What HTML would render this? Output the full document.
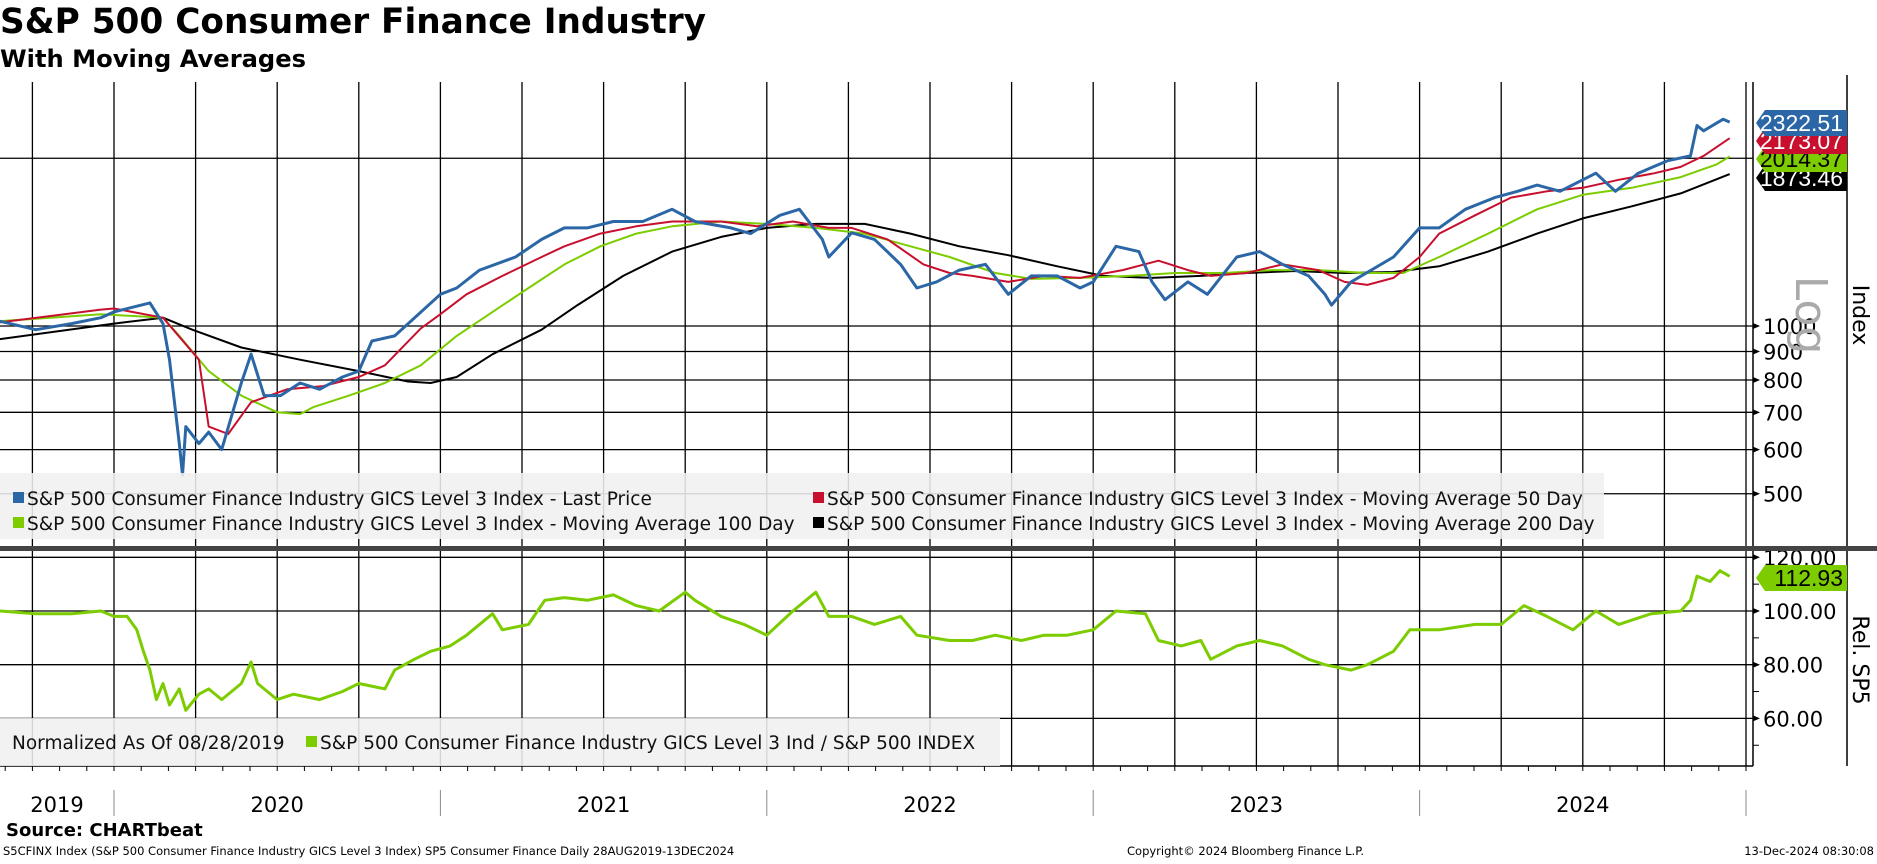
<!DOCTYPE html>
<html><head><meta charset="utf-8">
<style>
html,body{margin:0;padding:0;background:#fff;}
body{width:1877px;height:859px;overflow:hidden;font-family:"Liberation Sans","DejaVu Sans",sans-serif;}
svg text{font-family:"DejaVu Sans","Liberation Sans",sans-serif;}
svg text.tagtxt{font-family:"Liberation Sans","DejaVu Sans",sans-serif;}
</style></head>
<body>
<svg id="chart" width="1877" height="859" viewBox="0 0 1877 859" xmlns="http://www.w3.org/2000/svg">
<text x="0" y="33" font-size="35" font-weight="bold" fill="#000" textLength="706" lengthAdjust="spacingAndGlyphs">S&amp;P 500 Consumer Finance Industry</text>
<text x="0" y="67" font-size="24" font-weight="bold" fill="#000" textLength="306" lengthAdjust="spacingAndGlyphs">With Moving Averages</text>
<g id="grid"></g>
<g id="series"></g>
<g id="axes"></g>
<g id="legends"></g>
<text x="6" y="836" font-size="18" font-weight="bold" fill="#000">Source: CHARTbeat</text>
<text x="3" y="855" font-size="11.5" fill="#000">S5CFINX Index (S&amp;P 500 Consumer Finance Industry GICS Level 3 Index) SP5 Consumer Finance  Daily 28AUG2019-13DEC2024</text>
<text x="1127" y="855" font-size="11.5" fill="#000">Copyright© 2024 Bloomberg Finance L.P.</text>
<text x="1874" y="855" font-size="11.5" fill="#000" text-anchor="end">13-Dec-2024 08:30:08</text>
</svg>
<script>
const priceDates=[2019.65,2019.76,2019.87,2019.96,2020.00,2020.11,2020.15,2020.17,2020.20,2020.21,2020.22,2020.26,2020.29,2020.33,2020.39,2020.42,2020.46,2020.51,2020.57,2020.63,2020.70,2020.75,2020.79,2020.86,2021.00,2021.05,2021.12,2021.23,2021.31,2021.38,2021.45,2021.53,2021.62,2021.71,2021.78,2021.89,2021.95,2022.04,2022.10,2022.17,2022.19,2022.26,2022.33,2022.41,2022.46,2022.52,2022.59,2022.67,2022.74,2022.81,2022.89,2022.96,2023.00,2023.07,2023.14,2023.18,2023.22,2023.29,2023.35,2023.44,2023.51,2023.58,2023.66,2023.71,2023.73,2023.79,2023.92,2024.00,2024.06,2024.14,2024.23,2024.30,2024.36,2024.43,2024.54,2024.60,2024.67,2024.76,2024.83,2024.85,2024.87,2024.93,2024.95];
const priceVals=[1020,985,1010,1035,1060,1100,1010,870,615,540,660,615,645,600,790,890,750,750,790,770,810,830,940,960,1140,1170,1260,1330,1430,1500,1500,1540,1540,1620,1540,1500,1465,1580,1620,1430,1330,1470,1430,1290,1170,1200,1260,1290,1140,1230,1230,1170,1200,1390,1360,1200,1115,1200,1140,1330,1360,1290,1230,1140,1090,1200,1330,1500,1500,1620,1700,1745,1790,1745,1880,1745,1880,1980,2020,2290,2240,2350,2322.51];
const ma50Dates=[2019.65,2019.96,2020.00,2020.15,2020.26,2020.29,2020.35,2020.42,2020.53,2020.64,2020.75,2020.83,2020.94,2021.00,2021.08,2021.19,2021.31,2021.38,2021.49,2021.60,2021.71,2021.86,2021.97,2022.08,2022.19,2022.26,2022.37,2022.48,2022.56,2022.63,2022.74,2022.85,2022.96,2023.09,2023.20,2023.29,2023.36,2023.47,2023.58,2023.69,2023.77,2023.84,2023.92,2024.00,2024.06,2024.17,2024.28,2024.39,2024.50,2024.61,2024.72,2024.80,2024.87,2024.95];
const ma50Vals=[1015,1070,1075,1035,870,660,640,730,770,780,810,850,990,1050,1140,1230,1330,1390,1465,1510,1540,1540,1510,1540,1500,1500,1430,1290,1245,1230,1200,1230,1220,1260,1310,1260,1230,1245,1290,1260,1200,1185,1220,1330,1465,1580,1700,1745,1770,1830,1880,1930,2020,2173.07];
const ma100Dates=[2019.65,2019.96,2020.15,2020.20,2020.29,2020.39,2020.50,2020.57,2020.61,2020.72,2020.83,2020.94,2021.05,2021.16,2021.27,2021.38,2021.49,2021.60,2021.71,2021.86,2022.00,2022.15,2022.30,2022.44,2022.56,2022.70,2022.81,2022.96,2023.11,2023.25,2023.40,2023.55,2023.69,2023.84,2023.95,2024.06,2024.21,2024.36,2024.50,2024.65,2024.80,2024.91,2024.95];
const ma100Vals=[1020,1050,1035,960,830,750,700,695,715,750,790,850,960,1060,1170,1290,1390,1465,1510,1540,1525,1500,1465,1390,1330,1245,1215,1220,1230,1245,1245,1260,1260,1245,1245,1330,1465,1620,1720,1770,1850,1950,2014.37];
const ma200Dates=[2019.65,2020.00,2020.15,2020.24,2020.39,2020.57,2020.75,2020.90,2020.97,2021.05,2021.16,2021.31,2021.42,2021.56,2021.71,2021.86,2022.00,2022.15,2022.30,2022.44,2022.59,2022.74,2022.89,2023.03,2023.18,2023.33,2023.47,2023.62,2023.77,2023.92,2024.06,2024.21,2024.36,2024.50,2024.65,2024.80,2024.95];
const ma200Vals=[947,1010,1035,985,915,870,830,795,790,810,890,985,1090,1230,1360,1445,1500,1525,1525,1465,1390,1340,1280,1230,1220,1230,1245,1255,1245,1250,1280,1360,1465,1560,1640,1730,1873.46];
const relDates=[2019.65,2019.76,2019.87,2019.96,2020.00,2020.04,2020.07,2020.09,2020.11,2020.13,2020.15,2020.17,2020.20,2020.22,2020.26,2020.29,2020.33,2020.39,2020.42,2020.44,2020.50,2020.55,2020.63,2020.70,2020.75,2020.83,2020.86,2020.92,2020.97,2021.03,2021.08,2021.16,2021.19,2021.27,2021.32,2021.38,2021.45,2021.53,2021.60,2021.67,2021.75,2021.78,2021.86,2021.93,2022.00,2022.08,2022.15,2022.19,2022.26,2022.33,2022.41,2022.46,2022.56,2022.63,2022.70,2022.78,2022.85,2022.92,2023.00,2023.07,2023.16,2023.20,2023.27,2023.33,2023.36,2023.44,2023.51,2023.58,2023.66,2023.71,2023.79,2023.84,2023.92,2023.97,2024.06,2024.17,2024.25,2024.32,2024.39,2024.47,2024.54,2024.61,2024.71,2024.80,2024.83,2024.85,2024.89,2024.92,2024.95];
const relVals=[100,99,99,100,98,98,93,85,78,67,73,65,71,63,69,71,67,73,81,73,67,69,67,70,73,71,78,82,85,87,91,99,93,95,104,105,104,106,102,100,107,104,98,95,91,100,107,98,98,95,98,91,89,89,91,89,91,91,93,100,99,89,87,89,82,87,89,87,82,80,78,80,85,93,93,95,95,102,98,93,100,95,99,100,104,113,111,115,112.93];
const upperTicks=[2000,1000,900,800,700,600,500];
const upperTickLabels=["","1000","900","800","700","600","500"];
const lowerTicks=[120,100,80,60];
const lowerTickLabels=["120.00","100.00","80.00","60.00"];
const years=[2019,2020,2021,2022,2023,2024];

const NS="http://www.w3.org/2000/svg";
const PL=0,PR=1753,UT=82,UB=546,LT=551,LB=766;
function X(t){return 114+(t-2020)*326.4;}
function YU(v){return 326-242*Math.log(v/1000);}
function YL(v){return 611-(v-100)*2.685;}
function mk(tag,attrs,parent){const e=document.createElementNS(NS,tag);for(const k in attrs)e.setAttribute(k,attrs[k]);parent.appendChild(e);return e;}
const grid=document.getElementById('grid'),ser=document.getElementById('series'),axes=document.getElementById('axes'),leg=document.getElementById('legends');

for(let t=2019.75;t<=2025.001;t+=0.25){
  const x=X(t);
  const l1=mk('line',{x1:x,x2:x,y1:UT,y2:UB,stroke:'#000','stroke-width':1.3},grid);
  
  
  const l2=mk('line',{x1:x,x2:x,y1:LT,y2:LB,stroke:'#000','stroke-width':1.3},grid);
  
  
}
for(let m=0;m<=64;m++){
  const t=2019+8/12+m/12; if(t>2025.01)break;
  const x=X(t);
  const tk=mk('line',{x1:x,x2:x,y1:LB,y2:LB+5,stroke:'#000','stroke-width':1},axes);
  
  
}
upperTicks.forEach((v,i)=>{
  const y=YU(v);
  const g=mk('line',{x1:PL,x2:PR,y1:y,y2:y,stroke:'#000','stroke-width':1.3},grid);
  
  
  if(upperTickLabels[i]){
    const a=mk('path',{d:`M${PR} ${y-3}L${PR+7} ${y}L${PR} ${y+3}Z`,fill:'#000'},axes);
    
    
    const tx=mk('text',{x:PR+10,y:y+8,'font-size':21,fill:'#000'},axes);
    
    
    tx.textContent=upperTickLabels[i];
  }
});
lowerTicks.forEach((v,i)=>{
  const y=YL(v);
  const g=mk('line',{x1:PL,x2:PR,y1:y,y2:y,stroke:'#000','stroke-width':1.3},grid);
  
  
  const a=mk('path',{d:`M${PR} ${y-3}L${PR+7} ${y}L${PR} ${y+3}Z`,fill:'#000'},axes);
  
  
  const tx=mk('text',{x:PR+10,y:y+8,'font-size':21,fill:'#000'},axes);
  
  
  tx.textContent=lowerTickLabels[i];
});
[110,90,70,50].forEach(v=>{const y=YL(v);
  const m=mk('line',{x1:PR,x2:PR+6,y1:y,y2:y,stroke:'#000','stroke-width':1},axes);
  
  });

function line(dates,vals,yf,color,w,name){
  const d=dates.map((t,i)=>(i?'L':'M')+X(t).toFixed(1)+' '+yf(vals[i]).toFixed(1)).join('');
  const p=mk('path',{d:d,fill:'none',stroke:color,'stroke-width':w,'stroke-linejoin':'round'},ser);
  
  
}
line(ma200Dates,ma200Vals,YU,'#000',2,'ma200-line');
line(ma100Dates,ma100Vals,YU,'#7ccc00',2,'ma100-line');
line(ma50Dates,ma50Vals,YU,'#c8102e',2,'ma50-line');
line(priceDates,priceVals,YU,'#2b67a6',3,'last-price-line');
line(relDates,relVals,YL,'#7ccc00',3,'relative-sp5-line');

[[PR,UT,PR,LB],[1847,75,1847,546],[1847,551,1847,766],[0,LB,PR,LB]].forEach(c=>{
  const f=mk('line',{x1:c[0],y1:c[1],x2:c[2],y2:c[3],stroke:'#000','stroke-width':1.5},axes);
  
  });
const sep=mk('rect',{x:0,y:546,width:1877,height:5,fill:'#444'},axes);



function tag(y,bg,fg,txt,name){
  const g=mk('g',{},axes);
  
  
  mk('path',{d:`M1756 ${y}L1765 ${y-13}L1847 ${y-13}L1847 ${y+13}L1765 ${y+13}Z`,fill:bg},g);
  const t=mk('text',{x:1843,y:y+8,'font-size':23,fill:fg,'text-anchor':'end','class':'tagtxt'},g);
  t.textContent=txt;
}
tag(178,'#000','#fff','1873.46','tag-ma200');
tag(159,'#7ccc00','#000','2014.37','tag-ma100');
tag(141,'#c8102e','#fff','2173.07','tag-ma50');
tag(123,'#2b67a6','#fff','2322.51','tag-last-price');
tag(578,'#7ccc00','#000','112.93','tag-relative');

const lg=mk('text',{x:0,y:0,'font-size':44,fill:'#aaa',transform:'translate(1796,315) rotate(90)','text-anchor':'middle'},axes);


lg.textContent='Log';
const it=mk('text',{x:0,y:0,'font-size':22,fill:'#000',transform:'translate(1853,315) rotate(90)','text-anchor':'middle'},axes);


it.textContent='Index';
const rt=mk('text',{x:0,y:0,'font-size':22,fill:'#000',transform:'translate(1853,660) rotate(90)','text-anchor':'middle'},axes);


rt.textContent='Rel. SP5';

years.forEach(y=>{
  const s=Math.max(X(y),0), e=Math.min(X(y+1),1746);
  const t=mk('text',{x:(s+e)/2,y:812,'font-size':21,fill:'#000','text-anchor':'middle'},axes);
  
  
  t.textContent=String(y);
  if(y>2019){const l=mk('line',{x1:s,x2:s,y1:790,y2:816,stroke:'#888','stroke-width':1},axes);
  
  }
});
const l25=mk('line',{x1:1746,x2:1746,y1:790,y2:816,stroke:'#888','stroke-width':1},axes);



function legendBox(x,y,w,h,name){const r=mk('rect',{x:x,y:y,width:w,height:h,fill:'rgba(240,240,240,0.88)'},leg);
  
  }
legendBox(0,473,1604,66,'legend-upper');
legendBox(0,718,1000,48,'legend-lower');
function entry(x,y,color,txt,name){
  const g=mk('g',{},leg);
  
  
  mk('rect',{x:x,y:y-13,width:11,height:11,fill:color},g);
  const t=mk('text',{x:x+14,y:y,'font-size':18.5,fill:'#111'},g);
  t.textContent=txt;
}
entry(13,505,'#2b67a6','S&P 500 Consumer Finance Industry GICS Level 3 Index - Last Price','legend-entry-last-price');
entry(813,505,'#c8102e','S&P 500 Consumer Finance Industry GICS Level 3 Index - Moving Average 50 Day','legend-entry-ma50');
entry(13,530,'#7ccc00','S&P 500 Consumer Finance Industry GICS Level 3 Index - Moving Average 100 Day','legend-entry-ma100');
entry(813,530,'#000','S&P 500 Consumer Finance Industry GICS Level 3 Index - Moving Average 200 Day','legend-entry-ma200');
const nt=mk('text',{x:12,y:749,'font-size':18.5,fill:'#111'},leg);


nt.textContent='Normalized As Of 08/28/2019';
entry(306,749,'#7ccc00','S&P 500 Consumer Finance Industry GICS Level 3 Ind / S&P 500 INDEX','legend-entry-relative');
</script>
</body></html>
